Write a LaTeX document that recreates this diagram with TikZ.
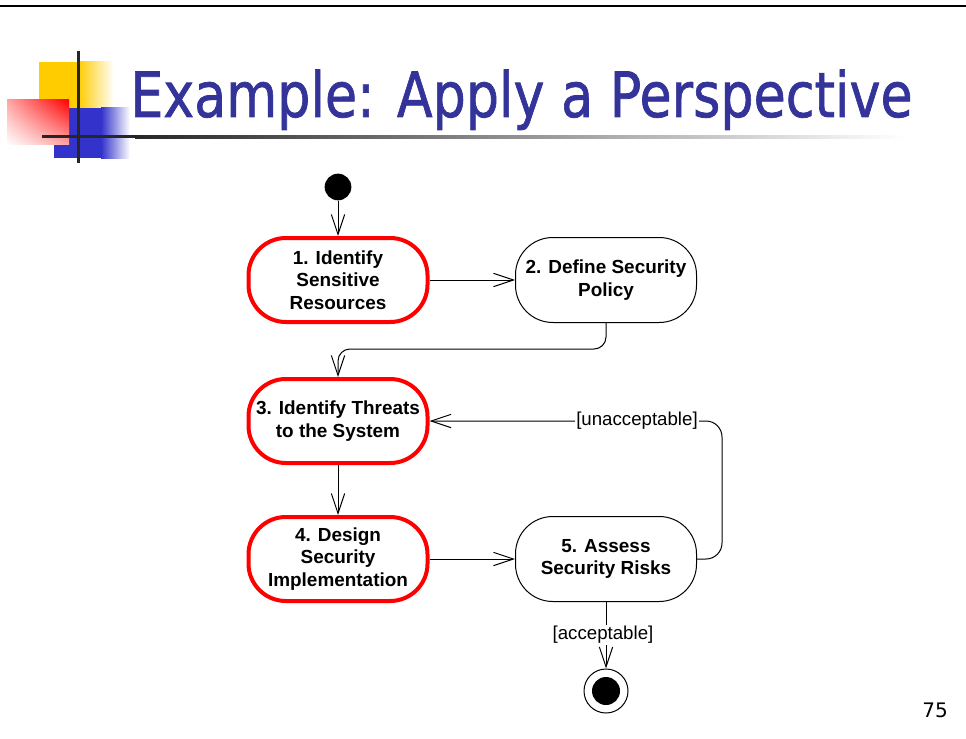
\documentclass[tikz,border=0pt]{standalone}
\usepackage{fontspec}
\usepackage{graphicx}
\setmainfont{Liberation Sans}
\newfontfamily\titlefont{DejaVu Sans}
\newfontfamily\titleheavy[FakeBold=1.2]{DejaVu Sans}
\usetikzlibrary{arrows.meta,shadings}
\definecolor{titleblue}{RGB}{51,51,153}
\definecolor{logoyellow}{RGB}{255,204,0}
\definecolor{logoblue}{RGB}{51,51,204}
\begin{document}
\begin{tikzpicture}[x=0.75pt,y=-0.75pt,
  act/.style={draw, line width=0.75pt, rounded corners=28pt, minimum width=135.75pt,
    minimum height=63.75pt, align=center, inner sep=0pt, fill=white,
    font=\fontsize{14.2}{17}\selectfont\bfseries},
  keyact/.style={act, draw=red, line width=3pt, minimum width=134.25pt, minimum height=63pt},
  flow/.style={draw, line width=0.75pt, -{Straight Barb[length=15pt,width=10pt,line width=0.75pt]}},
  lbl/.style={fill=white, inner sep=1pt, font=\fontsize{14}{16}\selectfont}]
\useasboundingbox (0,0) rectangle (966,738);
% top rule
\fill[black] (0,5) rectangle (966,7.5);
% logo
\fill[logoyellow] (39,62) rectangle (78,108);
\shade[left color=logoyellow, right color=white] (78,62) rectangle (114,108);
\fill[logoblue] (54,108) rectangle (101,158);
\shade[left color=logoblue, right color=white] (101,108) rectangle (130,158);
\shade[upper right=red, upper left=red!35, lower right=red!35, lower left=white] (7,100) rectangle (69,145);
\fill[black!85] (42,135.5) rectangle (135,138.5);
\shade[left color=black!85, right color=white] (135,135.5) rectangle (905,138.5);
\fill[black!85] (76.5,51) rectangle (79.5,163);
% title
\node[anchor=base west, inner sep=0pt, text=titleblue] (title) at (130,117)
  {\resizebox{586.5pt}{35.6pt}{\titleheavy Example: Apply a Perspective}};
% diagram
\node[circle, fill=black, minimum size=20pt, inner sep=0pt] (init) at (338,187) {};
\node[keyact] (n1) at (338,280) {1. Identify\\Sensitive\\Resources};
\node[act] (n2) at (606,280) {2. Define Security\\Policy};
\node[keyact] (n3) at (338,421) {3. Identify Threats\\to the System};
\node[keyact] (n4) at (338,559) {4. Design\\Security\\Implementation};
\node[act] (n5) at (606,559) {5. Assess\\Security Risks};
\node[circle, draw, line width=0.75pt, minimum size=33pt, inner sep=0pt] (fin) at (606,691) {};
\node[circle, fill=black, minimum size=21pt, inner sep=0pt] (finin) at (606,691) {};
\coordinate (midy) at (0,349);
\coordinate (loopx) at (722,0);
\draw[flow] (init) -- (n1);
\draw[flow] (n1) -- (n2);
\draw[flow, rounded corners=9pt] (n2.south) -- (n2.south |- midy) -- (n3.north |- midy) -- (n3.north);
\draw[flow] (n3) -- (n4);
\draw[flow] (n4) -- (n5);
\draw[flow, rounded corners=12pt] (n5.east) -- (n5.east -| loopx) -- (n3.east -| loopx) -- (n3.east);
\draw[flow] (n5.south) -- (fin.north);
\node[lbl] (unacc) at (637,421) {[unacceptable]};
\node[lbl] (acc) at (603,635) {[acceptable]};
% page number
\node[anchor=base, inner sep=0pt, font=\titlefont\fontsize{15}{18}\selectfont] (pg) at (935,717) {75};
\end{tikzpicture}
\end{document}
